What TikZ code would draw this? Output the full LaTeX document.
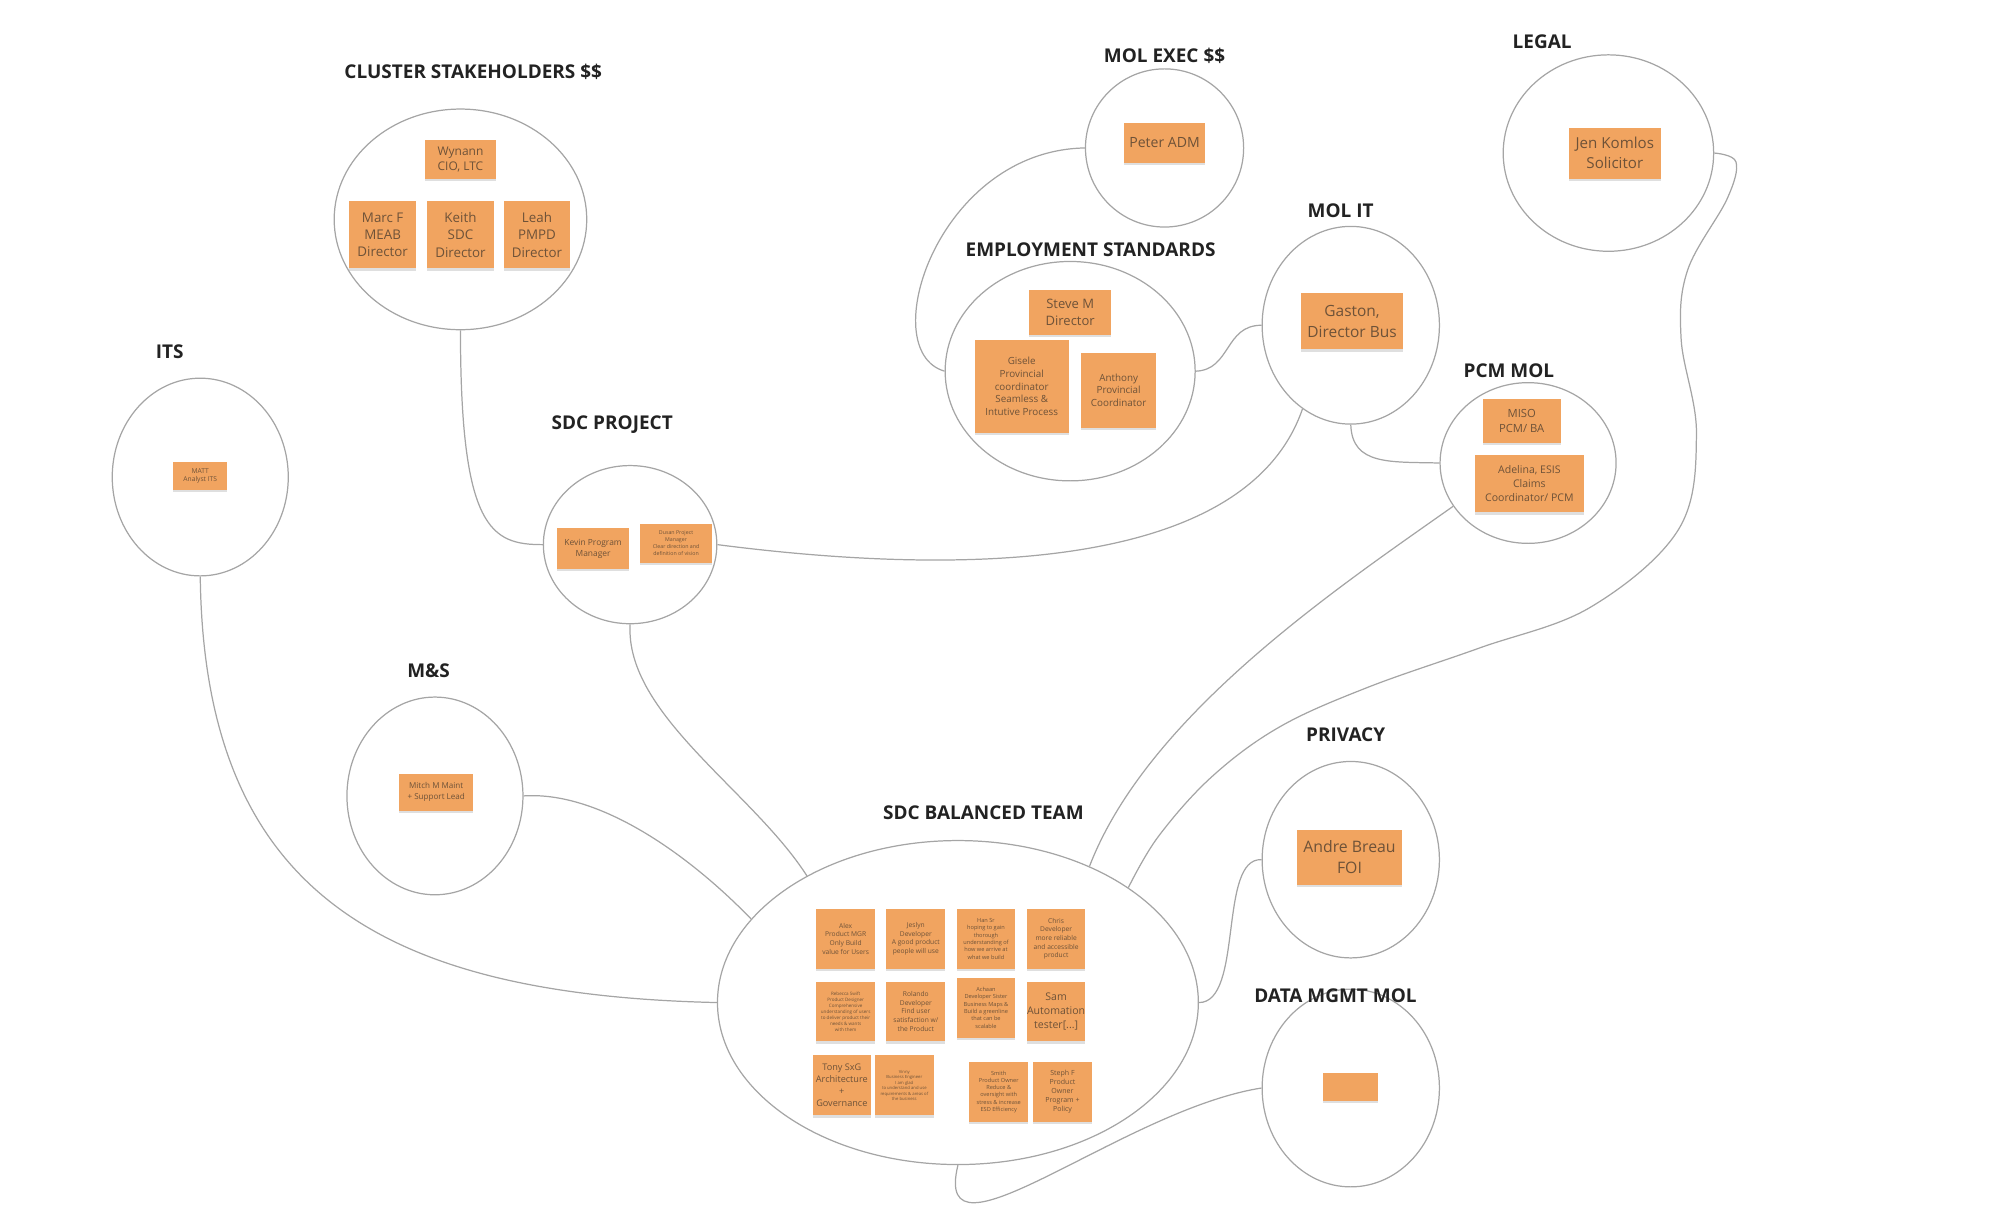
\documentclass[tikz,border=0pt]{standalone}
\usepackage{fontspec}
\setmainfont{Open Sans}
\usetikzlibrary{shapes.geometric,shadows}
\definecolor{sticky}{RGB}{241,164,96}
\definecolor{stickytext}{RGB}{110,82,56}
\definecolor{ring}{RGB}{165,165,165}
\definecolor{heading}{RGB}{34,34,34}
\newcommand{\px}{0.01276cm}
\newcommand{\fs}[1]{\fontsize{#1}{\dimexpr #1pt*13/10\relax}\selectfont}
\begin{document}
\begin{tikzpicture}[x=\px, y=-\px,
  group/.style 2 args={ellipse, draw=ring, line width=0.35pt, minimum width=#1*\px, minimum height=#2*\px, inner sep=0pt},
  title/.style={font=\fontsize{5.4}{6.5}\selectfont\bfseries, text=heading},
  note/.style 2 args={fill=sticky, text=stickytext, minimum width=#1*\px, minimum height=#2*\px, align=center, inner sep=0pt,
    drop shadow={shadow xshift=0pt, shadow yshift=-0.7pt, opacity=0.25}},
  link/.style={draw=ring, line width=0.35pt}]
  \useasboundingbox (0,0) rectangle (1568,964);
  % Groups
  \node[group={198}{173}] (cluster) at (361,172) {};
  \node[group={124}{124}] (exec) at (913,116) {};
  \node[group={165}{154}] (legal) at (1261,120) {};
  \node[group={196}{172}] (emp) at (839,291) {};
  \node[group={139}{155}] (molit) at (1059,255) {};
  \node[group={138}{126}] (pcm) at (1198,363) {};
  \node[group={138}{155}] (its) at (157,374) {};
  \node[group={136}{124}] (proj) at (494,427) {};
  \node[group={138}{155}] (ms) at (341,624) {};
  \node[group={377}{254}] (team) at (751,786) {};
  \node[group={139}{154}] (priv) at (1059,674) {};
  \node[group={139}{155}] (data) at (1059,853) {};
  % Titles
  \node[title] (hcluster) at (371,56) {CLUSTER STAKEHOLDERS \$\$};
  \node[title] (hexec) at (913,44) {MOL EXEC \$\$};
  \node[title] (hlegal) at (1209,33) {LEGAL};
  \node[title] (hemp) at (855,196) {EMPLOYMENT STANDARDS};
  \node[title] (hmolit) at (1051,165) {MOL IT};
  \node[title] (hpcm) at (1183,291) {PCM MOL};
  \node[title] (hits) at (133,276) {ITS};
  \node[title] (hproj) at (480,333) {SDC PROJECT};
  \node[title] (hms) at (336,526) {M\&S};
  \node[title] (hteam) at (771,637) {SDC BALANCED TEAM};
  \node[title] (hpriv) at (1055,576) {PRIVACY};
  \node[title] (hdata) at (1047,781) {DATA MGMT MOL};
  % Cluster stakeholders
  \node[note={55}{30}, font=\fs{3.4}] (wynann) at (361,125) {Wynann\\CIO, LTC};
  \node[note={52}{53}, font=\fs{3.8}] (marc) at (300,184) {Marc F\\MEAB\\Director};
  \node[note={52}{53}, font=\fs{3.8}] (keith) at (361,184) {Keith\\SDC\\Director};
  \node[note={52}{53}, font=\fs{3.8}] (leah) at (421,184) {Leah\\PMPD\\Director};
  % MOL exec, legal, employment standards
  \node[note={63}{31}, font=\fs{4}] (peter) at (913,112) {Peter ADM};
  \node[note={72}{40}, font=\fs{4.3}] (jen) at (1266,120) {Jen Komlos\\Solicitor};
  \node[note={64}{35}, font=\fs{3.7}] (steve) at (839,245) {Steve M\\Director};
  \node[note={74}{73}, font=\fs{2.8}] (gisele) at (801,303) {Gisele\\Provincial\\coordinator\\Seamless \&\\Intutive Process};
  \node[note={59}{59}, font=\fs{2.8}] (anthony) at (877,306) {Anthony\\Provincial\\Coordinator};
  % MOL IT, PCM MOL
  \node[note={80}{44}, font=\fs{4.4}] (gaston) at (1060,252) {Gaston,\\Director Bus};
  \node[note={61}{34}, font=\fs{3.2}] (miso) at (1193,330) {MISO\\PCM/ BA};
  \node[note={85}{45}, font=\fs{3}] (adelina) at (1199,379) {Adelina, ESIS\\Claims\\Coordinator/ PCM};
  % ITS, SDC project, M&S
  \node[note={42}{22}, font=\fs{1.9}] (matt) at (157,373) {MATT\\Analyst ITS};
  \node[note={56}{32}, font=\fs{2.4}] (kevin) at (465,430) {Kevin Program\\Manager};
  \node[note={56}{30}, font=\fs{1.5}] (dusan) at (530,426) {Dusan Project\\Manager\\Clear direction and\\definition of vision};
  \node[note={58}{29}, font=\fs{2.3}] (mitch) at (342,621) {Mitch M Maint\\+ Support Lead};
  % Privacy, data management
  \node[note={83}{43}, font=\fs{4.5}] (andre) at (1058,672) {Andre Breau\\FOI};
  \node[note={43}{22}] (datanote) at (1059,852) {};
  % SDC balanced team
  \node[note={46}{47}, font=\fs{1.9}] (alex) at (663,736) {Alex\\Product MGR\\Only Build\\value for Users};
  \node[note={46}{47}, font=\fs{1.9}] (jeslyn) at (718,736) {Jeslyn\\Developer\\A good product\\people will use};
  \node[note={46}{47}, font=\fs{1.6}] (han) at (773,736) {Han Sr\\hoping to gain\\thorough\\understanding of\\how we arrive at\\what we build};
  \node[note={46}{47}, font=\fs{1.9}] (chris) at (828,736) {Chris\\Developer\\more reliable\\and accessible\\product};
  \node[note={46}{47}, font=\fs{1.3}] (rebecca) at (663,793) {Rebecca Swift\\Product Designer\\Comprehensive\\understanding of users\\to deliver product their\\needs \& wants\\with them};
  \node[note={46}{47}, font=\fs{1.9}] (rolando) at (718,793) {Rolando\\Developer\\Find user\\satisfaction w/\\the Product};
  \node[note={46}{47}, font=\fs{1.6}] (achaan) at (773,790) {Achaan\\Developer Sister\\Business Maps \&\\Build a greenline\\that can be\\scalable};
  \node[note={46}{47}, font=\fs{3}] (sam) at (828,793) {Sam\\Automation\\tester[...]};
  \node[note={46}{47}, font=\fs{2.6}] (tony) at (660,851) {Tony SxG\\Architecture\\+\\Governance};
  \node[note={46}{47}, font=\fs{1.2}] (vinny) at (709,851) {Vinny\\Business Engineer\\I am glad\\to understand and use\\requirements \& areas of\\the business};
  \node[note={46}{47}, font=\fs{1.6}] (smith) at (783,856) {Smith\\Product Owner\\Reduce \&\\oversight with\\stress \& increase\\ESD Efficiency};
  \node[note={46}{47}, font=\fs{2}] (steph) at (833,856) {Steph F\\Product\\Owner\\Program +\\Policy};
  % Links
  \draw[link] (cluster.south) .. controls (361,415) and (385,427) .. (proj.west);
  \draw[link] (proj.east) .. controls (780,455) and (980,440) .. (molit.240);
  \draw[link] (exec.west) .. controls (735,118) and (685,275) .. (emp.west);
  \draw[link] (emp.east) .. controls (965,290) and (960,255) .. (molit.west);
  \draw[link] (molit.south) .. controls (1060,365) and (1090,362) .. (pcm.west);
  \draw[link] plot[smooth, tension=0.6] coordinates {(legal.east) (1361,127) (1354,156) (1323,212) (1318,266)
    (1330,340) (1316,415) (1247,476) (1160,508) (1072,539) (1003,570) (950,609) (908,656) (team.34)};
  \draw[link] (pcm.210) .. controls (1050,460) and (900,560) .. (team.46);
  \draw[link] (proj.south) .. controls (490,560) and (590,620) .. (team.140);
  \draw[link] (ms.east) .. controls (470,620) and (540,670) .. (team.158);
  \draw[link] (its.south) .. controls (160,700) and (300,780) .. (team.west);
  \draw[link] (priv.west) .. controls (955,672) and (975,786) .. (team.east);
  \draw[link] (data.west) .. controls (880,870) and (730,1000) .. (team.south);
\end{tikzpicture}
\end{document}
